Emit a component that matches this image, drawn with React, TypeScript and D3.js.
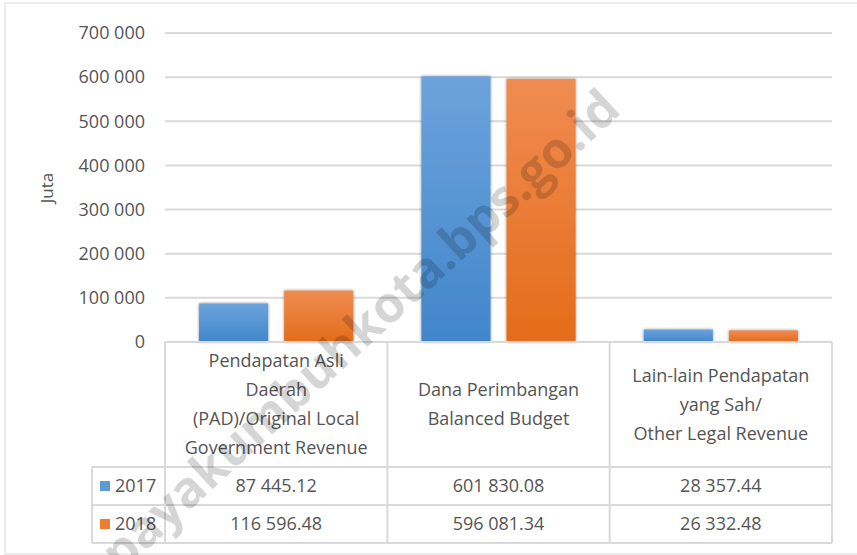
import React from "react";
import * as d3 from "d3";

const categories = [
  ["Pendapatan Asli", "Daerah", "(PAD)/Original Local", "Government Revenue"],
  ["Dana Perimbangan", "Balanced Budget"],
  ["Lain-lain Pendapatan", "yang Sah/", "Other Legal Revenue"],
];
const seriesNames = ["2017", "2018"];
const values2017 = [87445.12, 601830.08, 28357.44];
const values2018 = [116596.48, 596081.34, 26332.48];
const valueLabels2017 = ["87 445.12", "601 830.08", "28 357.44"];
const valueLabels2018 = ["116 596.48", "596 081.34", "26 332.48"];
const yTicks = [0, 100000, 200000, 300000, 400000, 500000, 600000, 700000];

const W = 857, H = 555;
const FONT = "'Open Sans', sans-serif";
const TEXT = "#555555";
const GRID = "#d9d9d9";
const FS = 18;

export default function App() {
  const left = 165, right = 832, top = 33, base = 342;
  const y = d3.scaleLinear().domain([0, 700000]).range([base, top]);
  const x0 = d3.scaleBand<number>().domain([0, 1, 2]).range([left, right]).paddingInner(0).paddingOuter(0);
  const x1 = d3.scaleBand<number>().domain([0, 1]).range([0, x0.bandwidth()]).paddingInner(0.188).paddingOuter(0.4);
  const series = [values2017, values2018];
  const labels = [valueLabels2017, valueLabels2018];
  const fmt = (v: number) => d3.format(",")(v).replace(/,/g, " ");
  const rowTops = [467, 505];
  const rowBottom = 543;

  return (
    <svg width={W} height={H} style={{ position: "absolute", left: 0, top: 0, background: "#fff" }}>
      <defs>
        <linearGradient id="gBlue" x1="0" y1="0" x2="0" y2="1">
          <stop offset="0" stopColor="#6ca3dc" />
          <stop offset="1" stopColor="#4186ca" />
        </linearGradient>
        <linearGradient id="gOrange" x1="0" y1="0" x2="0" y2="1">
          <stop offset="0" stopColor="#f08c52" />
          <stop offset="1" stopColor="#e46c1a" />
        </linearGradient>
        <filter id="shadow" x="-20%" y="-20%" width="140%" height="140%">
          <feGaussianBlur in="SourceAlpha" stdDeviation="1.5" />
          <feOffset dx="0" dy="0" result="b" />
          <feComponentTransfer><feFuncA type="linear" slope="0.45" /></feComponentTransfer>
          <feMerge><feMergeNode /><feMergeNode in="SourceGraphic" /></feMerge>
        </filter>
      </defs>
      <rect x={5} y={3} width={W} height={551} fill="#fff" stroke="#e6e6e6" strokeWidth={1.5} />
      {yTicks.map((t) => (
        <g key={t}>
          {t > 0 && <line x1={left} x2={right} y1={y(t)} y2={y(t)} stroke={GRID} strokeWidth={2} />}
          <text x={145} y={y(t)} dy="0.35em" textAnchor="end" fontFamily={FONT} fontSize={FS} fill={TEXT}>
            {fmt(t)}
          </text>
        </g>
      ))}
      <text transform={`translate(47,188) rotate(-90)`} dy="0.35em" textAnchor="middle" fontFamily={FONT} fontSize={17} fill={TEXT}>Juta</text>
      {categories.map((_, i) =>
        series.map((vals, s) => (
          <rect key={`${i}-${s}`} x={x0(i)! + x1(s)!} y={y(vals[i])} width={x1.bandwidth()} height={base - y(vals[i])}
            fill={s === 0 ? "url(#gBlue)" : "url(#gOrange)"} filter="url(#shadow)" />
        ))
      )}
      {/* table lines */}
      <g stroke={GRID} strokeWidth={2} fill="none">
        <line x1={left} x2={right} y1={base} y2={base} />
        {[...rowTops, rowBottom].map((ry) => (
          <line key={ry} x1={92} x2={right} y1={ry} y2={ry} />
        ))}
        <line x1={92} x2={92} y1={rowTops[0]} y2={rowBottom} />
        {[0, 1, 2].map((i) => (
          <line key={i} x1={x0(i)!} x2={x0(i)!} y1={base} y2={rowBottom} />
        ))}
        <line x1={right} x2={right} y1={base} y2={rowBottom} />
      </g>
      {categories.map((lines, i) => {
        const cx = x0(i)! + x0.bandwidth() / 2;
        const lh = 29;
        const mid = (base + rowTops[0]) / 2;
        const start = mid - ((lines.length - 1) * lh) / 2;
        return (
          <text key={i} textAnchor="middle" fontFamily={FONT} fontSize={FS} fill={TEXT}>
            {lines.map((l, k) => (
              <tspan key={k} x={cx} y={start + k * lh} dy="0.35em">{l}</tspan>
            ))}
          </text>
        );
      })}
      {seriesNames.map((name, s) => {
        const cy = (rowTops[s] + (s === 0 ? rowTops[1] : rowBottom)) / 2;
        return (
          <g key={name}>
            <rect x={100} y={cy - 5} width={10} height={10} fill={s === 0 ? "#5b9bd5" : "#ed7d31"} />
            <text x={115} y={cy} dy="0.35em" fontFamily={FONT} fontSize={FS} fill={TEXT}>{name}</text>
            {labels[s].map((lab, i) => (
              <text key={i} x={x0(i)! + x0.bandwidth() / 2} y={cy} dy="0.35em" textAnchor="middle" fontFamily={FONT} fontSize={FS} fill={TEXT}>{lab}</text>
            ))}
          </g>
        );
      })}
      <text transform="translate(360,330) rotate(-42.6)" dy="0.35em" textAnchor="middle" fontFamily={FONT} fontWeight="bold" fontSize={50} fill="#000" opacity={0.16}>
        payakumbuhkota.bps.go.id
      </text>
    </svg>
  );
}
